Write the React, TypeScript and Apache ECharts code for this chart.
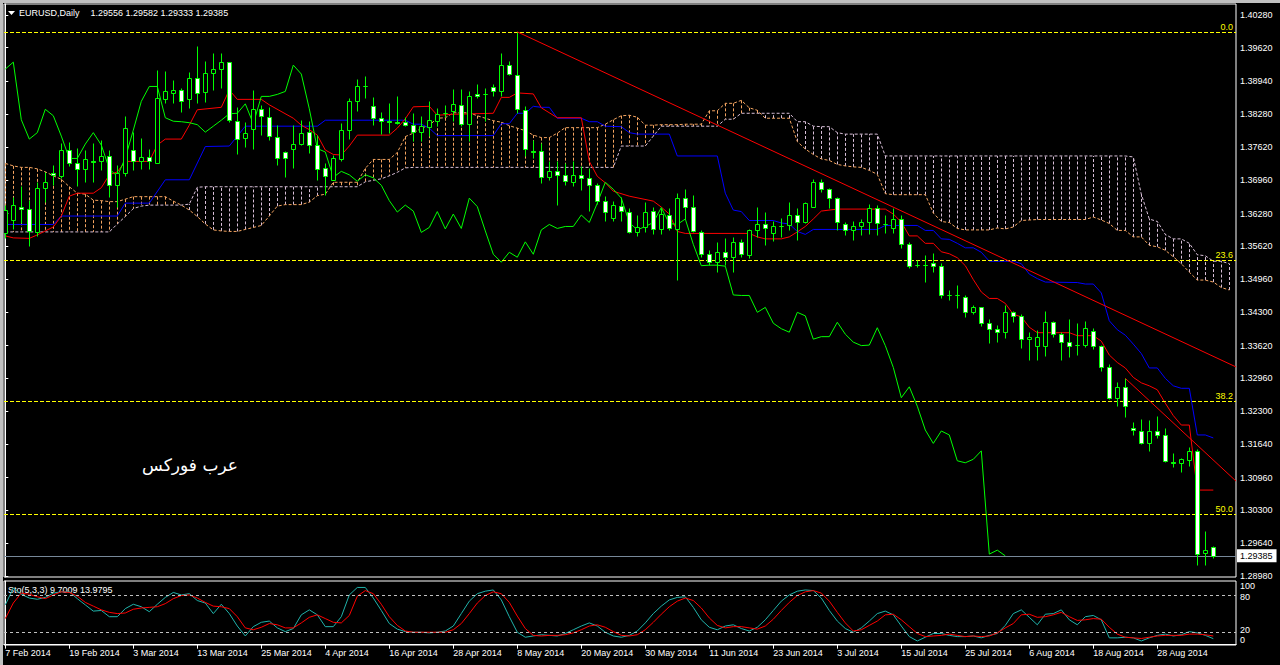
import React, { useEffect, useRef } from 'react';
import * as echarts from 'echarts';

// ---------- Price data (EURUSD Daily) ----------
const opens = [
  1.3589,1.3615,1.3642,1.3637,1.3591,1.3679,1.3709,1.3704,1.3757,1.3730,
  1.3717,1.3733,1.3733,1.3743,1.3686,1.3709,1.3757,1.3734,1.3741,1.3730,
  1.3858,1.3870,1.3877,1.3858,1.3901,1.3873,1.3911,1.3919,1.3933,1.3815,
  1.3780,1.3798,1.3838,1.3823,1.3783,1.3751,1.3759,1.3768,1.3792,1.3767,
  1.3720,1.3696,1.3738,1.3796,1.3854,1.3885,1.3844,1.3821,1.3814,1.3812,
  1.3812,1.3807,1.3792,1.3802,1.3815,1.3831,1.3835,1.3847,1.3809,1.3869,
  1.3869,1.3882,1.3874,1.3927,1.3908,1.3837,1.3755,1.3755,1.3701,1.3713,
  1.3706,1.3692,1.3706,1.3700,1.3685,1.3654,1.3620,1.3644,1.3632,1.3590,
  1.3600,1.3633,1.3597,1.3625,1.3597,1.3659,1.3642,1.3591,1.3546,1.3530,
  1.3550,1.3540,1.3571,1.3544,1.3594,1.3606,1.3588,1.3603,1.3604,1.3625,
  1.3610,1.3642,1.3691,1.3677,1.3659,1.3607,1.3595,1.3602,1.3610,1.3640,
  1.3607,1.3598,1.3617,1.3566,1.3525,1.3525,1.3528,1.3522,1.3464,1.3463,
  1.3460,1.3429,1.3439,1.3407,1.3396,1.3389,1.3429,1.3422,1.3375,1.3362,
  1.3362,1.3409,1.3385,1.3369,1.3363,1.3363,1.3392,1.3362,1.3318,1.3257,
  1.3279,1.3196,1.3190,1.3165,1.3190,1.3182,1.3127,1.3126,1.3132,1.3150,
  1.2944,1.29556,
];
const highs = [
  1.3645,1.3662,1.3684,1.3655,1.3691,1.3712,1.3726,1.3770,1.3773,1.3761,
  1.3757,1.3770,1.3776,1.3756,1.3726,1.3825,1.3793,1.3780,1.3759,1.3917,
  1.3915,1.3897,1.3881,1.3913,1.3966,1.3935,1.3951,1.3951,1.3934,1.3843,
  1.3813,1.3876,1.3847,1.3843,1.3806,1.3753,1.3806,1.3816,1.3814,1.3787,
  1.3730,1.3746,1.3810,1.3861,1.3900,1.3905,1.3862,1.3833,1.3851,1.3864,
  1.3822,1.3831,1.3824,1.3854,1.3841,1.3847,1.3878,1.3878,1.3874,1.3889,
  1.3881,1.3889,1.3951,1.3936,1.3994,1.3844,1.3777,1.3770,1.3733,1.3733,
  1.3730,1.3733,1.3723,1.3720,1.3690,1.3663,1.3653,1.3662,1.3639,1.3625,
  1.3651,1.3642,1.3639,1.3639,1.3669,1.3677,1.3665,1.3595,1.3555,1.3570,
  1.3578,1.3581,1.3577,1.3597,1.3642,1.3632,1.3612,1.3620,1.3651,1.3640,
  1.3651,1.3698,1.3698,1.3679,1.3662,1.3610,1.3612,1.3618,1.3647,1.3645,
  1.3626,1.3639,1.3626,1.3570,1.3535,1.3545,1.3548,1.3528,1.3474,1.3484,
  1.3464,1.3444,1.3440,1.3416,1.3404,1.3444,1.3432,1.3425,1.3390,1.3394,
  1.3432,1.3412,1.3390,1.3416,1.3407,1.3412,1.3397,1.3363,1.3324,1.3288,
  1.3296,1.3209,1.3214,1.3212,1.3221,1.3196,1.3145,1.3135,1.3158,1.3154,
  1.2989,1.29582,
];
const lows = [
  1.3579,1.3597,1.3609,1.3563,1.3583,1.3651,1.3686,1.3699,1.3724,1.3684,
  1.3692,1.3692,1.3716,1.3662,1.3642,1.3704,1.3716,1.3717,1.3717,1.3730,
  1.3850,1.3851,1.3833,1.3841,1.3851,1.3853,1.3877,1.3881,1.3812,1.3748,
  1.3763,1.3759,1.3786,1.3776,1.3726,1.3702,1.3719,1.3766,1.3750,1.3696,
  1.3666,1.3695,1.3734,1.3779,1.3834,1.3861,1.3807,1.3788,1.3790,1.3809,
  1.3804,1.3774,1.3774,1.3784,1.3804,1.3822,1.3814,1.3804,1.3774,1.3861,
  1.3815,1.3864,1.3864,1.3908,1.3831,1.3743,1.3740,1.3690,1.3696,1.3646,
  1.3686,1.3683,1.3676,1.3633,1.3647,1.3614,1.3613,1.3612,1.3588,1.3583,
  1.3591,1.3586,1.3586,1.3595,1.3494,1.3618,1.3591,1.3541,1.3524,1.3511,
  1.3524,1.3511,1.3541,1.3539,1.3581,1.3565,1.3573,1.3581,1.3595,1.3575,
  1.3608,1.3641,1.3672,1.3639,1.3595,1.3585,1.3575,1.3585,1.3586,1.3585,
  1.3588,1.3588,1.3559,1.3519,1.3521,1.3490,1.3511,1.3457,1.3454,1.3438,
  1.3420,1.3425,1.3402,1.3367,1.3370,1.3377,1.3409,1.3357,1.3333,1.3333,
  1.3342,1.3380,1.3333,1.3340,1.3343,1.3360,1.3355,1.3311,1.3254,1.3241,
  1.3219,1.3182,1.3163,1.3150,1.3175,1.3128,1.3118,1.3108,1.3120,1.2920,
  1.2920,1.29333,
];
const closes = [
  1.3635,1.3645,1.3637,1.3593,1.3679,1.3691,1.3706,1.3757,1.3730,1.3717,
  1.3737,1.3732,1.3743,1.3686,1.3709,1.3801,1.3734,1.3741,1.3733,1.3860,
  1.3875,1.3876,1.3855,1.3902,1.3870,1.3911,1.3919,1.3933,1.3817,1.3778,
  1.3791,1.3838,1.3825,1.3784,1.3739,1.3739,1.3768,1.3791,1.3766,1.3718,
  1.3703,1.3740,1.3796,1.3854,1.3884,1.3884,1.3821,1.3814,1.3813,1.3811,
  1.3807,1.3792,1.3804,1.3816,1.3829,1.3830,1.3849,1.3809,1.3864,1.3864,
  1.3868,1.3874,1.3927,1.3909,1.3839,1.3759,1.3752,1.3701,1.3713,1.3706,
  1.3693,1.3706,1.3700,1.3685,1.3654,1.3631,1.3645,1.3633,1.3590,1.3600,
  1.3632,1.3597,1.3627,1.3598,1.3659,1.3642,1.3593,1.3546,1.3530,1.3550,
  1.3540,1.3571,1.3546,1.3595,1.3606,1.3598,1.3602,1.3602,1.3625,1.3610,
  1.3649,1.3691,1.3677,1.3659,1.3610,1.3595,1.3602,1.3610,1.3640,1.3608,
  1.3606,1.3617,1.3566,1.3523,1.3524,1.3524,1.3522,1.3464,1.3463,1.3463,
  1.3429,1.3439,1.3407,1.3396,1.3389,1.3429,1.3422,1.3375,1.3380,1.3380,
  1.3409,1.3385,1.3369,1.3362,1.3363,1.3398,1.3362,1.3318,1.3257,1.3279,
  1.3240,1.3192,1.3165,1.3190,1.3182,1.3130,1.3126,1.3133,1.3150,1.2942,
  1.2950,1.29385,
];

// ---------- Ichimoku (9,26,52) ----------
const tenkanPts = [
  [0,1.3583],[1,1.3579],[3,1.3578],[4,1.3585],[5,1.3593],[6,1.3601],[7,1.3623],[8,1.3663],[9,1.3669],[11,1.3669],
  [12,1.3680],[13,1.3706],[14,1.3712],[15,1.3733],[18,1.3733],[19,1.3766],[20,1.3778],[22,1.3778],[23,1.3806],[24,1.3837],
  [27,1.3842],[28,1.3877],[29,1.3858],[32,1.3858],[33,1.3847],[36,1.3820],[37,1.3806],[38,1.3797],[39,1.3786],[40,1.3756],
  [41,1.3747],[42,1.3746],[43,1.3764],[44,1.3786],[48,1.3786],[49,1.3800],[50,1.3819],[51,1.3843],[53,1.3844],[54,1.3826],
  [56,1.3828],[61,1.3830],[62,1.3862],[63,1.3862],[64,1.3871],[66,1.3869],[67,1.3841],[69,1.3821],[72,1.3821],[73,1.3733],
  [74,1.3703],[75,1.3690],[76,1.3673],[78,1.3663],[81,1.3653],[82,1.3641],[83,1.3627],[84,1.3592],[85,1.3588],[93,1.3588],
  [94,1.3581],[95,1.3577],[97,1.3577],[98,1.3581],[99,1.3591],[100,1.3602],[101,1.3617],[102,1.3633],[104,1.3637],[110,1.3637],
  [111,1.3627],[112,1.3611],[113,1.3583],[114,1.3583],[115,1.3568],[116,1.3568],[117,1.3551],[118,1.3547],[119,1.3539],[120,1.3523],
  [121,1.3495],[122,1.3470],[123,1.3457],[124,1.3457],[125,1.3447],[126,1.3425],[127,1.3420],[128,1.3399],[129,1.3388],[133,1.3388],
  [134,1.3382],[136,1.3382],[137,1.3371],[138,1.3343],[139,1.3328],[140,1.3317],[141,1.3298],[142,1.3287],[143,1.3281],[144,1.3273],
  [145,1.3246],[146,1.3221],[147,1.3202],[148,1.3202],[149,1.3071],[151,1.3071],
];
const kijunPts = [
  [0,1.3606],[6,1.3606],[7,1.3623],[14,1.3623],[15,1.3649],[18,1.3649],[20,1.3696],[23,1.3696],[25,1.3763],[28,1.3764],
  [30,1.3804],[39,1.3804],[40,1.3816],[50,1.3816],[51,1.3808],[52,1.3808],[53,1.3800],[54,1.3785],[61,1.3785],[62,1.3809],
  [63,1.3809],[64,1.3830],[65,1.3830],[66,1.3844],[67,1.3842],[68,1.3842],[69,1.3820],[72,1.3820],[73,1.3813],[74,1.3813],
  [75,1.3804],[77,1.3803],[78,1.3791],[79,1.3788],[83,1.3788],[84,1.3744],[89,1.3744],[90,1.3669],[91,1.3635],[92,1.3632],
  [93,1.3614],[96,1.3614],[97,1.3609],[98,1.3607],[99,1.3592],[100,1.3586],[101,1.3596],[109,1.3596],[110,1.3604],[114,1.3604],
  [115,1.3594],[116,1.3594],[117,1.3577],[118,1.3576],[119,1.3568],[120,1.3559],[121,1.3559],[122,1.3550],[123,1.3532],[126,1.3532],
  [127,1.3527],[128,1.3506],[129,1.3497],[130,1.3490],[134,1.3489],[135,1.3486],[136,1.3486],[137,1.3468],[138,1.3412],[139,1.3394],
  [140,1.3383],[141,1.3365],[142,1.3346],[143,1.3317],[144,1.3317],[145,1.3296],[146,1.3281],[147,1.3276],[148,1.3276],[149,1.3182],
  [150,1.3182],[151,1.3176],
];
const senkouA = [
  1.3729,1.3724,1.3721,1.3721,1.3718,1.3712,1.3704,1.3697,1.3682,1.3669,
  1.3667,1.3655,1.3654,1.3652,1.3652,1.3657,1.3662,1.3662,1.3662,1.3662,
  1.3662,1.3653,1.3645,1.3635,1.3622,1.3607,1.3595,1.3593,1.3592,1.3592,
  1.3596,1.3600,1.3604,1.3623,1.3643,1.3646,1.3646,1.3646,1.3651,1.3664,
  1.3667,1.3691,1.3691,1.3691,1.3691,1.3719,1.3737,1.3737,1.3737,1.3751,
  1.3783,1.3790,1.3800,1.3806,1.3820,1.3821,1.3831,1.3831,1.3831,1.3825,
  1.3820,1.3815,1.3812,1.3805,1.3800,1.3795,1.3786,1.3781,1.3781,1.3790,
  1.3801,1.3801,1.3801,1.3801,1.3801,1.3808,1.3817,1.3825,1.3826,1.3822,
  1.3806,1.3806,1.3807,1.3807,1.3807,1.3808,1.3808,1.3808,1.3835,1.3835,
  1.3850,1.3850,1.3856,1.3841,1.3836,1.3820,1.3820,1.3820,1.3820,1.3773,
  1.3758,1.3747,1.3738,1.3735,1.3727,1.3724,1.3722,1.3721,1.3715,1.3707,
  1.3668,1.3666,1.3666,1.3666,1.3666,1.3666,1.3629,1.3612,1.3610,1.3598,
  1.3595,1.3595,1.3595,1.3595,1.3599,1.3597,1.3601,1.3614,1.3615,1.3616,
  1.3616,1.3616,1.3616,1.3616,1.3616,1.3616,1.3621,1.3615,1.3608,1.3594,
  1.3594,1.3581,1.3581,1.3564,1.3561,1.3554,1.3541,1.3527,1.3510,1.3494,
  1.3494,1.3490,1.3479,1.3474,
];
const senkouB = [
  1.3591,1.3591,1.3591,1.3591,1.3591,1.3591,1.3591,1.3591,1.3591,1.3591,
  1.3591,1.3591,1.3591,1.3591,1.3607,1.3622,1.3638,1.3643,1.3645,1.3645,
  1.3645,1.3645,1.3645,1.3647,1.3681,1.3682,1.3682,1.3682,1.3682,1.3682,
  1.3682,1.3682,1.3682,1.3682,1.3682,1.3682,1.3682,1.3682,1.3682,1.3682,
  1.3682,1.3682,1.3682,1.3682,1.3682,1.3692,1.3695,1.3698,1.3704,1.3711,
  1.3720,1.3721,1.3721,1.3721,1.3721,1.3721,1.3721,1.3721,1.3721,1.3721,
  1.3721,1.3721,1.3721,1.3721,1.3721,1.3721,1.3721,1.3721,1.3721,1.3721,
  1.3721,1.3721,1.3721,1.3721,1.3721,1.3721,1.3721,1.3764,1.3764,1.3764,
  1.3764,1.3784,1.3804,1.3804,1.3804,1.3804,1.3804,1.3804,1.3804,1.3804,
  1.3818,1.3818,1.3830,1.3830,1.3830,1.3830,1.3830,1.3830,1.3830,1.3813,
  1.3813,1.3804,1.3803,1.3803,1.3791,1.3788,1.3788,1.3788,1.3788,1.3788,
  1.3744,1.3744,1.3744,1.3744,1.3744,1.3744,1.3744,1.3744,1.3744,1.3744,
  1.3744,1.3744,1.3744,1.3744,1.3744,1.3744,1.3744,1.3744,1.3744,1.3744,
  1.3744,1.3744,1.3744,1.3744,1.3744,1.3744,1.3744,1.3744,1.3744,1.3744,
  1.3744,1.3742,1.3667,1.3617,1.3612,1.3586,1.3577,1.3577,1.3568,1.3545,
  1.3543,1.3532,1.3532,1.3527,
];
const CHIKOU_SHIFT = 26;

// ---------- Stochastic (5,3,3) ----------
const stochMain = [
  64,91,81,75,73,76,83,85,85,74, 64,54,55,45,45,58,65,61,53,65,
  76,84,80,82,71,67,50,65,50,30, 14,29,36,38,27,21,26,48,56,48,
  29,29,45,80,92,92,75,55,34,25, 21,20,20,19,20,22,30,50,70,82,
  86,88,72,45,20,12,14,16,15,14, 18,24,30,35,30,20,14,12,15,22,
  35,50,62,72,76,77,60,40,28,24, 30,32,26,22,28,40,55,70,80,86,
  88,87,75,55,38,26,20,27,38,50, 54,48,30,13,6,12,18,18,15,13,
  13,14,11,15,18,31,50,56,44,32, 49,50,56,40,32,45,47,40,11,11,
  12,11,6,11,15,17,14,16,21,19, 15,9.7009,
];
const stochSignal = [
  42,67,83,81,77,74,80,85,84,78, 68,62,56,52,50,51,57,59,60,61,
  66,74,79,80,75,68,62,61,58,45, 27,24,28,34,32,27,27,35,44,48,
  42,36,35,47,78,87,82,65,45,31, 22,20,20,20,20,20,24,34,50,67,
  79,85,82,68,46,26,15,14,15,15, 16,19,24,30,32,28,21,15,14,16,
  24,36,49,61,70,75,71,59,43,31, 27,29,29,27,25,30,41,55,68,79,
  85,87,83,70,52,35,22,24,31,38, 48,49,40,29,18,13,14,15,17,15,
  13,14,13,14,19,27,34,48,49,44, 45,48,52,45,39,40,42,41,28,17,
  12,11,10,12,14,15,15,15,17,17, 16,13.9795,
];
const stochLevels = [80, 20];

// ---------- Objects ----------
const trend1X = [64, 153.84];
const trend1Y = [1.3994, 1.3319];
const trend2X = [140, 153.84];
const trend2Y = [1.3296, 1.3089];
const fibValues = [1.39927, 1.35334, 1.32494, 1.30218];
const fibLabels = ['0.0', '23.6', '38.2', '50.0'];

// ---------- Axes ----------
const priceTicks = [
  1.40280, 1.39620, 1.38940, 1.38280, 1.37620, 1.36960, 1.36280, 1.35620, 1.34960,
  1.34300, 1.33620, 1.32960, 1.32300, 1.31640, 1.30960, 1.30300, 1.29640, 1.28980,
];
const dateTicks = [0, 8, 16, 24, 32, 40, 48, 56, 64, 72, 80, 88, 96, 104, 112, 120, 128, 136, 144];
const dateLabels = [
  '7 Feb 2014', '19 Feb 2014', '3 Mar 2014', '13 Mar 2014', '25 Mar 2014', '4 Apr 2014',
  '16 Apr 2014', '28 Apr 2014', '8 May 2014', '20 May 2014', '30 May 2014', '11 Jun 2014',
  '23 Jun 2014', '3 Jul 2014', '15 Jul 2014', '25 Jul 2014', '6 Aug 2014', '18 Aug 2014', '28 Aug 2014',
];

const X_MIN = -0.1625;
const X_MAX = 153.8375;
const Y_MIN = 1.28959;
const Y_MAX = 1.40501;

const FONT = '"Liberation Sans", Arial, sans-serif';

export default function App() {
  const ref = useRef<HTMLDivElement>(null);

  useEffect(() => {
    document.body.style.margin = '0';
    document.body.style.background = '#000';
    const chart = echarts.init(ref.current as HTMLDivElement, null, { renderer: 'svg' });

    const candleData = opens.map((o, i) => [i, o, highs[i], lows[i], closes[i]]);
    const cloudData = senkouA.map((a, i) => [i, a, senkouB[i]]);
    const chikouData = closes.slice(CHIKOU_SHIFT).map((c, j) => [j, c]);
    const lastClose = closes[closes.length - 1];

    const lineBase = (color: string, width = 1, dash: any = 'solid') => ({
      type: 'line',
      showSymbol: false,
      symbol: 'none',
      silent: true,
      animation: false,
      lineStyle: { color, width, type: dash },
      itemStyle: { color },
    });

    const txt = (text: string, x: number, y: number, color = '#fff', size = 9, align = 'left', family = FONT) => ({
      type: 'text',
      x,
      y,
      silent: true,
      style: {
        text,
        fill: color,
        font: `${size}px ${family}`,
        align,
        verticalAlign: 'middle',
        textAlign: align,
        textVerticalAlign: 'middle',
      },
    });

    const option: any = {
      animation: false,
      backgroundColor: '#000',
      grid: [
        { left: 4, top: 4, width: 1232, height: 573, show: true, borderColor: '#fff', borderWidth: 1, backgroundColor: '#000' },
        { left: 4, top: 581, width: 1232, height: 64, show: true, borderColor: '#fff', borderWidth: 1, backgroundColor: '#000' },
      ],
      xAxis: [
        { type: 'value', gridIndex: 0, min: X_MIN, max: X_MAX, show: false },
        {
          type: 'value', gridIndex: 1, min: X_MIN, max: X_MAX, position: 'bottom',
          axisLine: { show: true, lineStyle: { color: '#fff', width: 1 } },
          axisTick: { show: true, customValues: dateTicks, length: 4, lineStyle: { color: '#fff' } },
          axisLabel: {
            show: true, customValues: dateTicks, color: '#fff', fontSize: 9, fontFamily: FONT,
            align: 'left', margin: 3,
            formatter: (v: number) => {
              const k = dateTicks.indexOf(Math.round(v));
              return k >= 0 ? dateLabels[k] : '';
            },
          },
          splitLine: { show: false },
        },
      ],
      yAxis: [
        {
          type: 'value', gridIndex: 0, min: Y_MIN, max: Y_MAX, position: 'right', scale: true,
          axisLine: { show: true, lineStyle: { color: '#fff' } },
          axisTick: { show: true, customValues: priceTicks, length: 3, lineStyle: { color: '#fff' } },
          axisLabel: {
            show: true, customValues: priceTicks, color: '#fff', fontSize: 9, fontFamily: FONT, margin: 4,
            formatter: (v: number) => v.toFixed(5),
          },
          splitLine: { show: false },
        },
        {
          type: 'value', gridIndex: 1, min: -0.5, max: 102.4, position: 'right',
          axisLine: { show: true, lineStyle: { color: '#fff' } },
          axisTick: { show: false }, axisLabel: { show: false }, splitLine: { show: false },
        },
      ],
      series: [
        // Kumo hatch
        {
          type: 'custom', xAxisIndex: 0, yAxisIndex: 0, z: 1, silent: true, clip: true,
          data: cloudData,
          encode: { x: 0, y: [1, 2] },
          renderItem: (params: any, api: any) => {
            const i = api.value(0), a = api.value(1), b = api.value(2);
            const p1 = api.coord([i, a]);
            const p2 = api.coord([i, b]);
            const x = Math.round(p1[0]) + 0.5;
            return {
              type: 'line',
              shape: { x1: x, y1: p1[1], x2: x, y2: p2[1] },
              style: { stroke: a >= b ? '#f4a460' : '#d8bfd8', lineWidth: 1, lineDash: [3, 2] },
            };
          },
        },
        { ...lineBase('#f4a460', 1, [3, 2]), name: 'Senkou A', z: 2, data: senkouA.map((v, i) => [i, v]) },
        { ...lineBase('#d8bfd8', 1, [3, 2]), name: 'Senkou B', z: 2, data: senkouB.map((v, i) => [i, v]) },
        { ...lineBase('#0000ff'), name: 'Kijun', z: 3, data: kijunPts },
        { ...lineBase('#ff0000'), name: 'Tenkan', z: 3, data: tenkanPts },
        { ...lineBase('#00ff00'), name: 'Chikou', z: 3, data: chikouData },
        // Candles
        {
          type: 'custom', xAxisIndex: 0, yAxisIndex: 0, z: 5, silent: true, clip: true,
          data: candleData,
          encode: { x: 0, y: [1, 2, 3, 4] },
          renderItem: (params: any, api: any) => {
            const i = api.value(0);
            const o = api.value(1), h = api.value(2), l = api.value(3), c = api.value(4);
            const pO = api.coord([i, o]);
            const pC = api.coord([i, c]);
            const pH = api.coord([i, h]);
            const pL = api.coord([i, l]);
            const x = Math.round(pO[0]) + 0.5;
            const top = Math.round(Math.min(pO[1], pC[1])) + 0.5;
            const bot = Math.round(Math.max(pO[1], pC[1])) + 0.5;
            const bear = c < o;
            return {
              type: 'group',
              children: [
                {
                  type: 'line',
                  shape: { x1: x, y1: Math.round(pH[1]) + 0.5, x2: x, y2: Math.round(pL[1]) + 0.5 },
                  style: { stroke: '#00ff00', lineWidth: 1 },
                },
                {
                  type: 'rect',
                  shape: { x: x - 2, y: top, width: 4, height: Math.max(bot - top, 0) },
                  style: { fill: bear ? '#ffffff' : '#000000', stroke: '#00ff00', lineWidth: 1 },
                },
              ],
            };
          },
        },
        // Trendlines + fibo + price line
        {
          ...lineBase('#ff0000'), name: 'Trend1', z: 6,
          data: trend1X.map((x, k) => [x, trend1Y[k]]),
          markLine: {
            silent: true, symbol: ['none', 'none'], animation: false, precision: 6,
            data: [
              ...fibValues.map((v, k) => ({
                yAxis: v,
                lineStyle: { color: '#ffff00', type: [4, 2], width: 1 },
                label: {
                  show: true, position: 'insideEndTop', formatter: fibLabels[k], color: '#ffff00',
                  fontSize: 9, fontFamily: FONT, distance: [3, 1],
                },
              })),
              {
                yAxis: lastClose,
                lineStyle: { color: '#778899', type: 'solid', width: 1 },
                label: {
                  show: true, position: 'end', formatter: lastClose.toFixed(5),
                  color: '#000', backgroundColor: '#fff', padding: [2, 4, 2, 3], fontSize: 9, fontFamily: FONT, distance: 1,
                },
              },
            ],
          },
        },
        { ...lineBase('#ff0000'), name: 'Trend2', z: 6, data: trend2X.map((x, k) => [x, trend2Y[k]]) },
        // Stochastic
        {
          ...lineBase('#20b2aa'), name: 'Main', xAxisIndex: 1, yAxisIndex: 1, z: 3,
          data: stochMain.map((v, i) => [i, v]),
          markLine: {
            silent: true, symbol: ['none', 'none'], animation: false, precision: 2,
            lineStyle: { color: '#c0c0c0', type: [3, 3], width: 1 },
            label: { show: false },
            data: stochLevels.map((v) => ({ yAxis: v })),
          },
        },
        { ...lineBase('#ff0000'), name: 'Signal', xAxisIndex: 1, yAxisIndex: 1, z: 4, data: stochSignal.map((v, i) => [i, v]) },
      ],
      graphic: [
        { type: 'rect', silent: true, shape: { x: 0, y: 0, width: 3, height: 665 }, style: { fill: '#c0c0c0' } },
        { type: 'rect', silent: true, shape: { x: 0, y: 0, width: 1280, height: 3 }, style: { fill: '#c0c0c0' } },
        { type: 'polygon', silent: true, shape: { points: [[8, 11], [15, 11], [11.5, 15]] }, style: { fill: '#fff' } },
        txt('EURUSD,Daily', 19, 13),
        txt('1.29556 1.29582 1.29333 1.29385', 90.5, 13),
        txt('Sto(5,3,3) 9.7009 13.9795', 8, 590),
        txt('عرب فوركس', 190, 465, '#fff', 17, 'center', '"DejaVu Sans", sans-serif'),
        txt('100', 1240, 586),
        txt('80', 1240, 597),
        txt('20', 1240, 630),
        txt('0', 1240, 640),
      ],
    };

    chart.setOption(option);
    return () => chart.dispose();
  }, []);

  return (
    <div
      ref={ref}
      style={{ position: 'absolute', left: 0, top: 0, width: 1280, height: 665, background: '#000' }}
    />
  );
}
